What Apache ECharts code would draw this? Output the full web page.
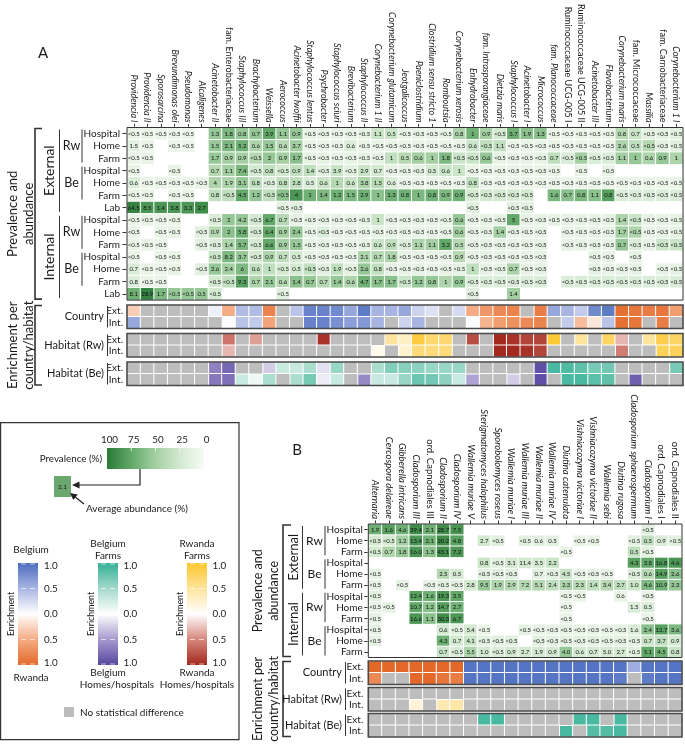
<!DOCTYPE html>
<html><head><meta charset="utf-8">
<script src="https://cdn.jsdelivr.net/npm/echarts@6/dist/echarts.min.js"></script>
<style>html,body{margin:0;padding:0;background:#fff}#c{width:685px;height:745px}</style>
</head><body><div id="c"></div>
<script>
const L = '<0.5', _ = null;
const FONT = 'Lato, "Open Sans", sans-serif';

// ---------------- Panel A ----------------
const A_taxa = ['Providencia I','Providencia II','Sporosarcina','Brevundimonas olei','Pseudomonas','Alcaligenes',
 'Acinetobacter II','fam. Enterobacteriaceae','Staphylococcus III','Brachybacterium','Weissella','Aerococcus',
 'Acinetobacter lwoffii','Staphylococcus lentus','Psychrobacter','Staphylococcus sciuri','Brevibacterium','Staphylococcus II',
 'Corynebacterium 1 II','Corynebacterium glutamicum','Jeotgalicoccus','Paeniclostridium','Clostridium sensu stricto 1','Romboutsia',
 'Corynebacterium xerosis','Enhydrobacter','fam. Intrasporangiaceae','Dietzia maris',
 'Staphylococcus I','Acinetobacter I','Micrococcus',
 'fam. Planococcaceae','Ruminococcaceae UCG-005 I','Ruminococcaceae UCG-005 II','Acinetobacter III','Flavobacterium',
 'Corynebacterium maris','fam. Micrococcaceae','Massilia','fam. Carnobacteriaceae','Corynebacterium 1 I'];
const A_upright = ['fam. Enterobacteriaceae','Ruminococcaceae UCG-005 I','Ruminococcaceae UCG-005 II','fam. Micrococcaceae','fam. Carnobacteriaceae'];
const A_rowNames = ['Hospital','Home','Farm','Hospital','Home','Farm','Lab','Hospital','Home','Farm','Hospital','Home','Farm','Lab'];

// abundance (%) labels per row
const A_ab_extRwHosp = [L,L,L,L,L,_, 1.3,1.8,0.8,0.7,3.9,1.1, 0.9,L,L,L,L,L, 1.1,0.5,L,L,L,L, 0.8,1,0.9,L, 3.7,1.9,1.3, L,L,L,L,L, 0.8,0.7,L,L,L];
const A_ab_extRwHome = [1.5,L,_,L,L,_, 1.5,2.1,5.2,0.6,1.5,0.6, 3.7,L,L,L,0.6,L, L,L,L,L,L,L, L,0.6,L,1.1, L,L,L, L,L,L,L,L, 2.6,0.5,L,L,L];
const A_ab_extRwFarm = [L,L,_,_,_,_, 1.7,0.9,0.9,L,2,0.9, 1.7,L,L,L,L,L, L,1,0.5,0.6,1,1.8, L,L,0.6,L, L,L,L, 0.7,L,L,L,L, 1.1,1,0.6,0.9,1];
const A_ab_extBeHosp = [L,_,_,L,_,_, 0.7,1.1,7.4,L,0.8,L, 0.9,1.4,L,3.9,L,2.9, 0.7,L,L,L,0.5,0.6, 1,L,L,L, L,L,L, L,_,L,_,L, _,_,_,_,_];
const A_ab_extBeHome = [0.6,L,L,L,L,L, 4,1.9,3.1,0.8,L,0.8, 2.8,0.5,0.6,1,0.6,3.8, 1.5,0.6,L,L,L,L, L,0.8,L,L, L,L,L, L,L,L,L,L, L,L,L,L,L];
const A_ab_extBeFarm = [L,L,_,L,L,_, 0.8,L,4.5,1.2,L,L, 4,1,1.4,1.2,1.5,2.9, 1,1.3,0.8,1,0.8,0.9, 0.9,L,L,L, L,L,_, 1.6,0.7,0.8,1.1,0.8, L,L,L,L,L];
const A_ab_extLab    = [64.5,8.5,1.4,3.8,3.3,2.7, _,_,_,_,_,L, L,_,_,_,_,_, _,_,_,_,_,_, _,L,_,_, L,L,_, _,_,_,_,_, _,_,_,_,_];
const A_ab_intRwHosp = [L,L,L,L,_,_, L,2,4.2,L,6.7,0.7, L,L,L,L,L,L, 1,L,L,L,L,L, 0.6,L,L,L, 5,L,L, L,L,L,L,L, 1.4,L,L,L,L];
const A_ab_intRwHome = [L,_,L,L,_,L, 0.9,2,5.8,L,6.4,0.9, 2.4,L,L,L,L,L, L,L,L,L,L,L, 0.6,L,L,1.4, L,L,L, _,L,L,L,L, 1.7,L,L,L,L];
const A_ab_intRwFarm = [L,L,L,_,_,L, L,1.4,5.7,L,6.6,0.9, 1.5,L,L,L,L,L, 0.6,0.9,L,1.1,1.1,3.2, 0.5,L,L,L, L,L,L, _,L,L,L,L, 0.7,L,L,L,L];
const A_ab_intBeHosp = [L,_,L,L,_,_, L,8.2,3.7,L,0.9,0.7, 0.5,L,L,L,L,2.1, 0.7,1.8,L,L,L,L, 0.9,L,L,L, L,L,L, _,_,_,L,L, _,L,_,_,_];
const A_ab_intBeHome = [0.7,L,L,L,_,L, 2.6,2.4,6,0.6,1,L, 0.5,L,L,1.9,L,2.6, 0.8,L,L,L,L,L, L,1,L,L, 0.7,L,L, _,_,_,L,L, L,L,_,L,L];
const A_ab_intBeFarm = [0.8,L,L,_,_,_, L,L,9.3,0.7,2.1,0.6, 1.4,0.7,0.7,1.4,0.6,4.7, 1.7,1.7,L,1.2,0.8,1, 0.9,L,L,L, L,L,L, _,L,L,L,L, L,L,L,L,L];
const A_ab_intLab    = [8.1,28.9,1.7,L,L,0.5, L,_,_,_,_,L, _,_,_,_,_,_, _,_,_,_,_,_, _,L,_,_, 1.4,_,_, _,_,_,_,_, _,_,_,_,_];

// prevalence (%) per row (cell colour)
const A_pv_extRwHosp = [10,10,8,8,8,_, 55,65,55,55,75,55, 55,12,12,12,12,12, 30,30,12,12,12,12, 45,70,50,25, 70,60,60, 10,10,10,10,10, 40,30,15,15,15];
const A_pv_extRwHome = [15,10,_,8,8,_, 55,65,70,45,55,40, 50,10,10,10,20,10, 10,10,10,10,10,10, 10,30,35,35, 10,10,10, 10,10,10,10,10, 45,35,40,15,15];
const A_pv_extRwFarm = [10,10,_,_,_,_, 55,50,50,40,55,50, 60,12,12,12,12,12, 12,35,40,50,50,65, 30,30,55,12, 12,12,12, 35,20,50,20,20, 50,55,45,55,45];
const A_pv_extBeHosp = [10,_,_,10,_,_, 40,50,65,25,35,25, 35,35,15,30,15,30, 25,12,12,12,25,30, 30,10,10,10, 10,10,10, 10,_,10,_,10, _,_,_,_,_];
const A_pv_extBeHome = [20,10,10,10,10,10, 45,45,55,35,20,35, 35,20,30,40,30,45, 40,20,10,10,10,10, 10,35,10,10, 10,10,10, 10,10,10,10,10, 10,10,10,10,10];
const A_pv_extBeFarm = [10,10,_,10,10,_, 35,35,75,55,35,60, 85,70,65,70,65,70, 60,70,70,65,70,65, 70,25,25,25, 25,25,_, 65,60,65,60,80, 20,20,20,20,20];
const A_pv_extLab    = [95,85,85,85,85,90, _,_,_,_,_,15, 15,_,_,_,_,_, _,_,_,_,_,_, _,15,_,_, 15,15,_, _,_,_,_,_, _,_,_,_,_];
const A_pv_intRwHosp = [10,10,10,10,_,_, 20,55,55,25,75,40, 12,12,12,12,12,12, 30,12,12,12,12,12, 55,12,12,12, 75,12,12, 12,12,12,12,12, 45,30,12,12,12];
const A_pv_intRwHome = [10,_,10,10,_,15, 40,60,70,25,75,50, 55,12,20,12,12,12, 12,12,12,12,12,12, 50,12,12,50, 12,12,12, _,12,12,12,12, 50,45,12,12,12];
const A_pv_intRwFarm = [10,10,10,_,_,15, 20,45,65,25,75,50, 55,12,12,12,12,12, 30,35,20,45,50,75, 40,12,12,12, 12,12,12, _,12,12,12,12, 55,20,12,30,30];
const A_pv_intBeHosp = [10,_,10,10,_,_, 30,65,55,25,45,35, 25,12,12,12,12,45, 40,45,12,12,12,12, 40,12,12,12, 12,12,12, _,_,_,12,12, _,12,_,_,_];
const A_pv_intBeHome = [20,10,10,10,_,15, 55,50,65,35,35,25, 25,35,15,35,15,55, 35,12,12,12,12,12, 12,35,12,12, 45,12,12, _,_,_,12,12, 12,12,_,12,12];
const A_pv_intBeFarm = [20,10,10,_,_,_, 25,35,80,45,55,40, 60,55,40,55,45,70, 60,60,30,55,55,45, 55,20,20,20, 20,20,20, _,20,20,20,20, 20,20,20,20,20];
const A_pv_intLab    = [70,95,65,55,55,55, 25,_,_,_,_,15, _,_,_,_,_,_, _,_,_,_,_,_, _,15,_,_, 50,_,_, _,_,_,_,_, _,_,_,_,_];

// enrichment (-1..1), null = no statistical difference
const A_country_ext = [-0.3,_,_,_,_,_, 0.1,-0.5,0.45,0.45,-0.8,_, 0.4,0.85,0.85,0.8,0.6,0.9, 0.5,0.5,0.6,0.3,0.2,_, 0.25,-0.5,-0.65,-0.75, -0.8,_,-0.85, 0.6,0.5,0.35,0.8,0.9, -0.95,-0.9,-0.85,-0.9,-0.6];
const A_country_int = [0.6,_,_,_,_,_, _,0.02,0.4,0.35,-0.55,_, _,0.85,0.85,0.75,0.65,0.7, 0.5,_,0.3,0.5,_,_, _,0.03,-0.45,-0.6, -0.7,-0.75,-0.8, _,0.35,-0.4,-0.15,0.4, -0.95,-0.9,_,-0.85,_];
const A_rw_ext = [_,_,_,_,_,_, _,-0.6,_,-0.4,_,_, _,_,-0.95,_,_,_, _,0.5,0.3,0.9,0.7,0.7, _,-0.8,_,-1, -0.95,-0.85,-0.85, 0.95,_,0.5,_,0.75, -0.3,_,0.5,0.85,0.75];
const A_rw_int = [_,_,_,_,_,_, _,-0.3,_,_,_,_, _,_,_,_,_,_, 0.1,_,0.25,0.65,0.65,0.65, _,_,_,-1, -1,-0.95,-0.85, _,_,_,_,_, -0.55,_,_,0.8,0.8];
const A_be_ext = [_,_,_,_,_,_, -0.65,-0.8,_,_,-0.25,0.3, 0.3,0.45,-0.15,0.55,_,_, 0.45,0.65,0.62,0.6,0.55,0.55, 0.55,_,_,_, _,_,-0.95, 0.9,0.88,0.8,0.7,0.72, _,_,_,_,0.7];
const A_be_int = [_,_,_,_,_,_, -0.7,-0.75,0.3,0.1,0.45,_, 0.45,0.7,-0.1,0.3,_,-0.6, 0.3,0.3,0.55,0.75,0.72,0.6, 0.3,-0.45,_,_, -0.25,_,-0.95, _,0.9,0.9,0.82,0.8, _,-0.85,_,_,_];

// ---------------- Panel B ----------------
const B_taxa = ['Alternaria','Cercospora delaireae','Gibberella intricans','Cladosporium III','ord. Capnodiales III','Cladosporium II','Cladosporium IV',
 'Wallemia muriae V','Sterigmatomyces halophilus','Sporobolomyces roseus','Wallemia muriae I','Wallemia muriae III','Wallemia muriae II','Wallemia muriae IV',
 'Diutina catenulata','Vishniacozyma victoriae I','Vishniacozyma victoriae II','Wallemia sebi','Diutina rugosa',
 'Cladosporium sphaerospermum','Cladosporium I','ord. Capnodiales I','ord. Capnodiales II'];
const B_upright = ['ord. Capnodiales III','ord. Capnodiales I','ord. Capnodiales II'];
const B_rowNames = ['Hospital','Home','Farm','Hospital','Home','Farm','Hospital','Home','Farm','Hospital','Home','Farm'];

const B_ab_extRwHosp = [1.9,1.6,4.6,39.4,2.1,28.7,7.5, _,_,_,_,_,_,_, _,_,_,_,_, _,L,_,_];
const B_ab_extRwHome = [L,L,1.2,13.4,2.1,20.2,4.8, _,2.7,L,_,L,0.6,0.5, _,L,L,_,_, L,0.5,0.9,L];
const B_ab_extRwFarm = [L,0.7,1.8,16.0,1.3,45.1,7.2, _,_,_,_,_,_,_, L,_,_,_,_, 0.5,L,_,_];
const B_ab_extBeHosp = [_,_,_,_,_,_,_, _,0.8,L,3.1,11.4,3.5,2.2, _,_,_,_,_, 4.3,3.8,16.8,4.6];
const B_ab_extBeHome = [L,_,_,_,_,2.5,0.5, _,L,L,L,_,0.7,L, 4.5,L,L,L,_, L,0.6,14.9,2.6];
const B_ab_extBeFarm = [L,_,L,_,L,L,L, 2.8,9.5,1.9,2.9,7.2,5.1,2.4, 2.3,2.3,1.4,3.4,2.7, 1.0,4.6,10.9,2.3];
const B_ab_intRwHosp = [L,_,_,12.4,1.6,19.3,3.5, _,_,_,_,_,_,_, L,L,_,_,0.6, _,L,_,_];
const B_ab_intRwHome = [L,L,_,10.7,1.2,14.7,2.7, _,_,_,_,_,_,_, L,_,_,_,_, 1.5,0.5,_,_];
const B_ab_intRwFarm = [L,_,_,16.6,1.1,30.3,6.7, _,_,_,_,_,_,_, L,_,_,_,_, _,L,_,_];
const B_ab_intBeHosp = [L,_,_,_,_,0.6,L, 5.4,L,_,_,L,L,L, L,L,L,L,L, 1.6,2.4,12.7,3.6];
const B_ab_intBeHome = [L,_,_,_,_,4.3,0.7, 4.1,L,L,L,_,L,L, L,L,L,L,L, L,0.7,3.7,0.9];
const B_ab_intBeFarm = [_,_,_,_,_,0.7,L, 5.5,1.0,L,0.9,2.7,1.9,0.9, 4.0,0.6,0.7,5.0,2.7, L,5.1,4.5,0.8];

const B_pv_extRwHosp = [70,80,70,90,70,90,85, _,_,_,_,_,_,_, _,_,_,_,_, _,15,_,_];
const B_pv_extRwHome = [25,25,50,85,70,90,80, _,25,15,_,15,15,15, _,10,10,_,_, 15,35,20,15];
const B_pv_extRwFarm = [25,45,55,85,60,90,85, _,_,_,_,_,_,_, 10,_,_,_,_, 35,15,_,_];
const B_pv_extBeHosp = [_,_,_,_,_,_,_, _,30,15,25,25,25,30, _,_,_,_,_, 80,75,85,85];
const B_pv_extBeHome = [12,_,_,_,_,40,25, _,15,15,15,_,15,15, 30,12,12,12,_, 20,40,80,60];
const B_pv_extBeFarm = [12,_,12,_,12,15,15, 25,55,45,40,40,40,35, 45,40,35,40,35, 30,65,70,55];
const B_pv_intRwHosp = [15,_,_,80,70,85,75, _,_,_,_,_,_,_, 10,10,_,_,10, _,12,_,_];
const B_pv_intRwHome = [12,12,_,75,60,80,70, _,_,_,_,_,_,_, 10,_,_,_,_, 20,20,_,_];
const B_pv_intRwFarm = [12,_,_,85,60,90,85, _,_,_,_,_,_,_, 10,_,_,_,_, _,10,_,_];
const B_pv_intBeHosp = [12,_,_,_,_,25,15, 25,10,_,_,12,12,12, 12,12,12,12,12, 20,60,80,65];
const B_pv_intBeHome = [12,_,_,_,_,70,25, 30,15,15,15,_,15,15, 15,15,15,15,15, 15,30,35,25];
const B_pv_intBeFarm = [_,_,_,_,_,30,20, 45,25,20,25,25,25,25, 55,25,25,25,25, 15,75,70,30];

const B_country_ext = [-1,-1,-1,-1,-1,-1,-1, 0.95,0.95,0.95,0.95,0.95,0.95,0.95, 0.95,0.95,0.95,0.95,0.95, 0.55,0.95,0.95,0.95];
const B_country_int = [-0.75,_,_,-1,-1,-0.9,-0.85, 0.95,0.95,0.95,0.95,0.95,0.95,0.95, 0.95,0.95,0.95,0.95,0.9, _,0.9,0.95,0.95];
const B_rw_ext = [_,_,_,_,_,_,_, _,_,_,_,_,_,_, _,_,_,_,_, _,_,_,_];
const B_rw_int = [_,_,_,0.2,_,0.4,0.45, _,_,_,_,_,_,_, _,_,_,_,_, _,_,_,_];
const B_be_ext = [_,_,_,_,_,_,_, _,0.9,0.9,_,_,_,_, _,0.9,0.9,_,0.9, _,_,_,_];
const B_be_int = [_,_,_,_,_,_,_, _,_,_,_,_,_,_, 0.9,_,0.85,0.85,0.9, _,_,_,_];

// ---------------- colour scales ----------------
const PREV_COLORS = ['#f7fbf6','#d3e9d0','#a3cfa2','#62a969','#2a7a36'];
const COUNTRY_COLORS = ['#e2692a','#f5ab83','#ffffff','#a8b5e2','#4c6dbf'];
const RW_COLORS = ['#a3281e','#d6877c','#ffffff','#fee49c','#fdc62a'];
const BE_COLORS = ['#5747a1','#a699cf','#ffffff','#a3dacb','#33b196'];
const NA_COLOR = '#bdbdbd';

// ---------------- build data ----------------
const A_ab = [A_ab_extRwHosp,A_ab_extRwHome,A_ab_extRwFarm,A_ab_extBeHosp,A_ab_extBeHome,A_ab_extBeFarm,A_ab_extLab,
              A_ab_intRwHosp,A_ab_intRwHome,A_ab_intRwFarm,A_ab_intBeHosp,A_ab_intBeHome,A_ab_intBeFarm,A_ab_intLab];
const A_pv = [A_pv_extRwHosp,A_pv_extRwHome,A_pv_extRwFarm,A_pv_extBeHosp,A_pv_extBeHome,A_pv_extBeFarm,A_pv_extLab,
              A_pv_intRwHosp,A_pv_intRwHome,A_pv_intRwFarm,A_pv_intBeHosp,A_pv_intBeHome,A_pv_intBeFarm,A_pv_intLab];
const B_ab = [B_ab_extRwHosp,B_ab_extRwHome,B_ab_extRwFarm,B_ab_extBeHosp,B_ab_extBeHome,B_ab_extBeFarm,
              B_ab_intRwHosp,B_ab_intRwHome,B_ab_intRwFarm,B_ab_intBeHosp,B_ab_intBeHome,B_ab_intBeFarm];
const B_pv = [B_pv_extRwHosp,B_pv_extRwHome,B_pv_extRwFarm,B_pv_extBeHosp,B_pv_extBeHome,B_pv_extBeFarm,
              B_pv_intRwHosp,B_pv_intRwHome,B_pv_intRwFarm,B_pv_intBeHosp,B_pv_intBeHome,B_pv_intBeFarm];

function cells(ab, pv) {
  const out = [];
  ab.forEach((row, y) => row.forEach((v, x) => { if (v !== null) out.push([x, y, pv[y][x], v]); }));
  return out;
}
function enr(ext, int) {
  const col = [], na = [];
  [ext, int].forEach((row, y) => row.forEach((v, x) => { if (v === null) na.push([x, y, 0]); else col.push([x, y, v]); }));
  return {col, na};
}

// ---------------- layout ----------------
const GA = {left:127, top:127.5, width:556, height:172.6};
const GAE = [305, 333.5, 362];
const GB = {left:368.3, top:524, width:313.7, height:133.5};
const GBE = [661, 687.5, 713.5];
const EH = 23.5;

const grids = [GA,
  {left:GA.left, top:GAE[0], width:GA.width, height:EH},
  {left:GA.left, top:GAE[1], width:GA.width, height:EH},
  {left:GA.left, top:GAE[2], width:GA.width, height:EH},
  GB,
  {left:GB.left, top:GBE[0], width:GB.width, height:EH},
  {left:GB.left, top:GBE[1], width:GB.width, height:EH},
  {left:GB.left, top:GBE[2], width:GB.width, height:EH}
].map(g => Object.assign({outerBoundsMode:'none', containLabel:false}, g));

const rich = fs => ({
  i:{fontStyle:'italic', fontSize:fs, fontFamily:FONT, color:'#1a1a1a'},
  n:{fontStyle:'normal', fontSize:fs, fontFamily:FONT, color:'#1a1a1a'}
});
function taxAxis(gi, taxa, upright, fs) {
  return {gridIndex:gi, type:'category', data:taxa, position:'top',
    axisLine:{show:false}, splitLine:{show:false},
    axisTick:{show:true, length:3.5, alignWithLabel:true, lineStyle:{color:'#333', width:1}},
    axisLabel:{rotate:90, interval:0, margin:5, hideOverlap:false,
      formatter: v => upright.indexOf(v) >= 0 ? '{n|' + v + '}' : '{i|' + v + '}', rich:rich(fs)}};
}
function rowAxis(gi, names, margin, tick) {
  return {gridIndex:gi, type:'category', data:names.map((n,i)=>'r'+i), inverse:true,
    axisLine:{show:false}, splitLine:{show:false},
    axisTick:{show:true, length:tick, alignWithLabel:true, lineStyle:{color:'#333'}},
    axisLabel:{interval:0, margin:margin, fontSize:10, fontFamily:FONT, color:'#1a1a1a',
      formatter:(v, i) => names[i]}};
}
function hiddenX(gi, taxa) { return {gridIndex:gi, type:'category', data:taxa, show:false}; }
function eY(gi, margin) {
  return {gridIndex:gi, type:'category', data:['Ext.','Int.'], inverse:true,
    axisLine:{show:false}, axisTick:{show:false}, splitLine:{show:false},
    axisLabel:{interval:0, margin:margin, fontSize:10, fontFamily:FONT, color:'#1a1a1a'}};
}

const xAxes = [taxAxis(0, A_taxa, A_upright, 9), hiddenX(1, A_taxa), hiddenX(2, A_taxa), hiddenX(3, A_taxa),
               taxAxis(4, B_taxa, B_upright, 9.5), hiddenX(5, B_taxa), hiddenX(6, B_taxa), hiddenX(7, B_taxa)];
const yAxes = [rowAxis(0, A_rowNames, 7, 4.5), eY(1, 4), eY(2, 4), eY(3, 4),
               rowAxis(4, B_rowNames, 5.5, 4), eY(5, 5), eY(6, 5), eY(7, 5)];

const cellLabelA = p => (typeof p.data[3] === 'number' ? String(p.data[3]) : p.data[3]);
const cellLabelB = p => (typeof p.data[3] === 'number' ? p.data[3].toFixed(1) : p.data[3]);
function mainSeries(gi, data, fmt) {
  return {type:'heatmap', xAxisIndex:gi, yAxisIndex:gi, data:data, progressive:0,
    itemStyle:{borderColor:'#ffffff', borderWidth:1},
    label:{show:true, formatter:fmt, fontSize:6, fontFamily:FONT, color:'#111'},
    emphasis:{disabled:true}};
}
function enrSeries(gi, data) {
  return {type:'heatmap', xAxisIndex:gi, yAxisIndex:gi, data:data, progressive:0,
    itemStyle:{borderColor:'#ffffff', borderWidth:1}, emphasis:{disabled:true}};
}
function naSeries(gi, data) {
  return {type:'heatmap', xAxisIndex:gi, yAxisIndex:gi, data:data, progressive:0,
    itemStyle:{color:NA_COLOR, borderColor:'#ffffff', borderWidth:1}, emphasis:{disabled:true}};
}

const aC = enr(A_country_ext, A_country_int), aR = enr(A_rw_ext, A_rw_int), aB = enr(A_be_ext, A_be_int);
const bC = enr(B_country_ext, B_country_int), bR = enr(B_rw_ext, B_rw_int), bB = enr(B_be_ext, B_be_int);

const series = [
  mainSeries(0, cells(A_ab, A_pv), cellLabelA),  // 0
  enrSeries(1, aC.col), enrSeries(2, aR.col), enrSeries(3, aB.col), // 1-3
  mainSeries(4, cells(B_ab, B_pv), cellLabelB),  // 4
  enrSeries(5, bC.col), enrSeries(6, bR.col), enrSeries(7, bB.col), // 5-7
  naSeries(1, aC.na), naSeries(2, aR.na), naSeries(3, aB.na),
  naSeries(5, bC.na), naSeries(6, bR.na), naSeries(7, bB.na)
];

const visualMap = [
  {type:'continuous', show:false, min:0, max:100, dimension:2, seriesIndex:[0,4], inRange:{color:PREV_COLORS}},
  {type:'continuous', show:false, min:-1, max:1, dimension:2, seriesIndex:[1,5], inRange:{color:COUNTRY_COLORS}},
  {type:'continuous', show:false, min:-1, max:1, dimension:2, seriesIndex:[2,6], inRange:{color:RW_COLORS}},
  {type:'continuous', show:false, min:-1, max:1, dimension:2, seriesIndex:[3,7], inRange:{color:BE_COLORS}}
];

// ---------------- annotations ----------------
const G = [];
function T(x, y, text, o) {
  o = o || {};
  G.push({type:'text', x:x, y:y, rotation:o.rot || 0, silent:true, z:50,
    style:{text:text, fontSize:o.fs || 10, fontFamily:FONT, fill:o.c || '#1a1a1a',
      fontWeight:o.fw || 'normal',
      align:o.al || 'center', textAlign:o.al || 'center',
      verticalAlign:'middle', textVerticalAlign:'middle', lineHeight:o.lh || undefined}});
}
function LN(x1, y1, x2, y2, w, c) {
  G.push({type:'line', silent:true, z:50, shape:{x1:x1, y1:y1, x2:x2, y2:y2}, style:{stroke:c || '#333', lineWidth:w || 1}});
}
function PL(points, w, c) {
  G.push({type:'polyline', silent:true, z:50, shape:{points:points}, style:{stroke:c || '#333', lineWidth:w || 1, fill:null}});
}
function BR(x, y1, y2, len) { PL([[x + len, y1], [x, y1], [x, y2], [x + len, y2]], 1.6, '#333'); }
function FR(g, w, c) {
  G.push({type:'rect', silent:true, z:100, shape:{x:g.left, y:g.top, width:g.width, height:g.height},
    style:{fill:null, stroke:c, lineWidth:w}});
}
const rotL = Math.PI / 2;

// frames
FR(GA, 1, '#333');
GAE.forEach(t => FR({left:GA.left, top:t, width:GA.width, height:EH}, 1.6, '#4a4a4a'));
FR(GB, 1, '#333');
GBE.forEach(t => FR({left:GB.left, top:t, width:GB.width, height:EH}, 1.6, '#4a4a4a'));

// Panel A labels
const rhA = GA.height / 14;
const ryA = i => GA.top + (i + 0.5) * rhA;
T(43, 53, 'A', {fs:15});
T(21, GA.top + GA.height / 2, 'Prevalence and\nabundance', {rot:rotL, fs:13, lh:16});
BR(35, GA.top + 1, GA.top + GA.height - 1, 7);
T(49, (ryA(0) + ryA(6)) / 2, 'External', {rot:rotL, fs:14});
LN(59.5, GA.top + 2, 59.5, GA.top + 7 * rhA - 2);
T(49, (ryA(7) + ryA(13)) / 2, 'Internal', {rot:rotL, fs:14});
LN(59.5, GA.top + 7 * rhA + 2, 59.5, GA.top + 14 * rhA - 2);
[[0,'Rw'],[3,'Be'],[7,'Rw'],[10,'Be']].forEach(([r, s]) => {
  T(71.5, ryA(r + 1), s, {fs:12.5});
  LN(82, GA.top + r * rhA + 2, 82, GA.top + (r + 3) * rhA - 2);
});
T(21, (GAE[0] + GAE[2] + EH) / 2, 'Enrichment per\ncountry/habitat', {rot:rotL, fs:13, lh:16});
BR(35, GAE[0] + 0.5, GAE[2] + EH - 0.5, 7);
['Country', 'Habitat (Rw)', 'Habitat (Be)'].forEach((s, i) => {
  T(104, GAE[i] + EH / 2, s, {fs:11, al:'right'});
  LN(107.5, GAE[i] + 1, 107.5, GAE[i] + EH - 1);
});

// Panel B labels
const rhB = GB.height / 12;
const ryB = i => GB.top + (i + 0.5) * rhB;
T(297, 450, 'B', {fs:15});
T(266, GB.top + GB.height / 2, 'Prevalence and\nabundance', {rot:rotL, fs:12.5, lh:15.5});
BR(283, GB.top + 1, GB.top + GB.height - 1, 8);
T(294, (ryB(0) + ryB(5)) / 2, 'External', {rot:rotL, fs:13});
LN(302.5, GB.top + 2, 302.5, GB.top + 6 * rhB - 2);
T(294, (ryB(6) + ryB(11)) / 2, 'Internal', {rot:rotL, fs:13});
LN(302.5, GB.top + 6 * rhB + 2, 302.5, GB.top + 12 * rhB - 2);
[[0,'Rw'],[3,'Be'],[6,'Rw'],[9,'Be']].forEach(([r, s]) => {
  T(314.5, ryB(r + 1), s, {fs:12});
  LN(325, GB.top + r * rhB + 2, 325, GB.top + (r + 3) * rhB - 2);
});
T(266, (GBE[0] + GBE[2] + EH) / 2, 'Enrichment per\ncountry/habitat', {rot:rotL, fs:12.5, lh:15.5});
BR(283, GBE[0] + 0.5, GBE[2] + EH - 0.5, 8);
['Country', 'Habitat (Rw)', 'Habitat (Be)'].forEach((s, i) => {
  T(342, GBE[i] + EH / 2, s, {fs:11, al:'right'});
  LN(345.5, GBE[i] + 1, 345.5, GBE[i] + EH - 1);
});

// ---------------- legend ----------------
G.push({type:'rect', silent:true, z:40, shape:{x:0.6, y:422.6, width:238.4, height:317}, style:{fill:null, stroke:'#333', lineWidth:1.2}});
const PB = {x:107, y:448, w:97, h:21};
const stops = (cols, rev) => cols.map((c, i) => ({offset: rev ? 1 - i / (cols.length - 1) : i / (cols.length - 1), color:c}));
G.push({type:'rect', silent:true, z:45, shape:{x:PB.x, y:PB.y, width:PB.w, height:PB.h},
  style:{fill:{type:'linear', x:0, y:0, x2:1, y2:0, colorStops:stops(PREV_COLORS, true)}}});
[100, 75, 50, 25, 0].forEach(v => {
  const x = PB.x + (100 - v) / 100 * PB.w;
  T(x + 2.5, 440, String(v), {fs:9.8});
  if (v > 0 && v < 100) LN(x, PB.y, x, PB.y + 3, 0.8, '#ffffff');
});
T(102, 458.5, 'Prevalence (%)', {fs:9.8, al:'right'});
G.push({type:'rect', silent:true, z:45, shape:{x:54, y:476, width:17, height:21}, style:{fill:'#6aa870'}});
T(62.5, 486.5, '2.1', {fs:6.5});
PL([[140, 469], [140, 485], [78, 485]], 1.2, '#222');
G.push({type:'polygon', silent:true, z:50, shape:{points:[[72, 485], [79.5, 481.5], [79.5, 488.5]]}, style:{fill:'#222'}});
LN(84, 504, 74, 496, 1.2, '#222');
G.push({type:'polygon', silent:true, z:50, shape:{points:[[70, 493], [77.7, 494.6], [73.3, 500.1]]}, style:{fill:'#222'}});
T(86, 509, 'Average abundance (%)', {fs:10, al:'left'});

const bars = [
  {x:18, cols:COUNTRY_COLORS, top:['Belgium'], bot:['Rwanda'], cx:31, lx:44, ex:11},
  {x:98, cols:BE_COLORS, top:['Belgium','Farms'], bot:['Belgium','Homes/hospitals'], cx:108, lx:123.5, ex:91},
  {x:187, cols:RW_COLORS, top:['Rwanda','Farms'], bot:['Rwanda','Homes/hospitals'], cx:197, lx:212.5, ex:180}
];
const BY = 563, BH = 102, BW = 20;
bars.forEach(b => {
  G.push({type:'rect', silent:true, z:45, shape:{x:b.x, y:BY, width:BW, height:BH},
    style:{fill:{type:'linear', x:0, y:0, x2:0, y2:1, colorStops:stops(b.cols, true)}}});
  ['1.0','0.5','0.0','0.5','1.0'].forEach((s, i) => {
    const yy = BY + i * BH / 4;
    const yl = Math.min(Math.max(yy, BY + 1), BY + BH - 1);
    T(b.lx, Math.min(Math.max(yy, BY + 3), BY + BH - 2), s, {fs:9.8, al:'left'});
    LN(b.x + 3, yl, b.x + 8, yl, 0.8, 'rgba(255,255,255,0.8)');
    LN(b.x + 12, yl, b.x + 17, yl, 0.8, 'rgba(255,255,255,0.8)');
  });
  T(b.ex, BY + BH / 2, 'Enrichment', {rot:rotL, fs:8.8});
  if (b.top.length === 1) T(b.cx, 550, b.top[0], {fs:10});
  else { T(b.cx, 544, b.top[0], {fs:10}); T(b.cx, 556, b.top[1], {fs:10}); }
  if (b.bot.length === 1) T(b.cx, 678, b.bot[0], {fs:10});
  else { T(b.cx, 673, b.bot[0], {fs:10}); T(b.cx + (b.x === 98 ? 9 : 0), 685, b.bot[1], {fs:10}); }
});
G.push({type:'rect', silent:true, z:45, shape:{x:64, y:707, width:10, height:10}, style:{fill:NA_COLOR}});
T(80, 712.5, 'No statistical difference', {fs:10, al:'left'});

const chart = echarts.init(document.getElementById('c'), null, {renderer:'canvas'});
chart.setOption({
  animation:false,
  backgroundColor:'#ffffff',
  textStyle:{fontFamily:FONT},
  grid:grids, xAxis:xAxes, yAxis:yAxes,
  visualMap:visualMap, series:series,
  graphic:{elements:G}
});
</script></body></html>
